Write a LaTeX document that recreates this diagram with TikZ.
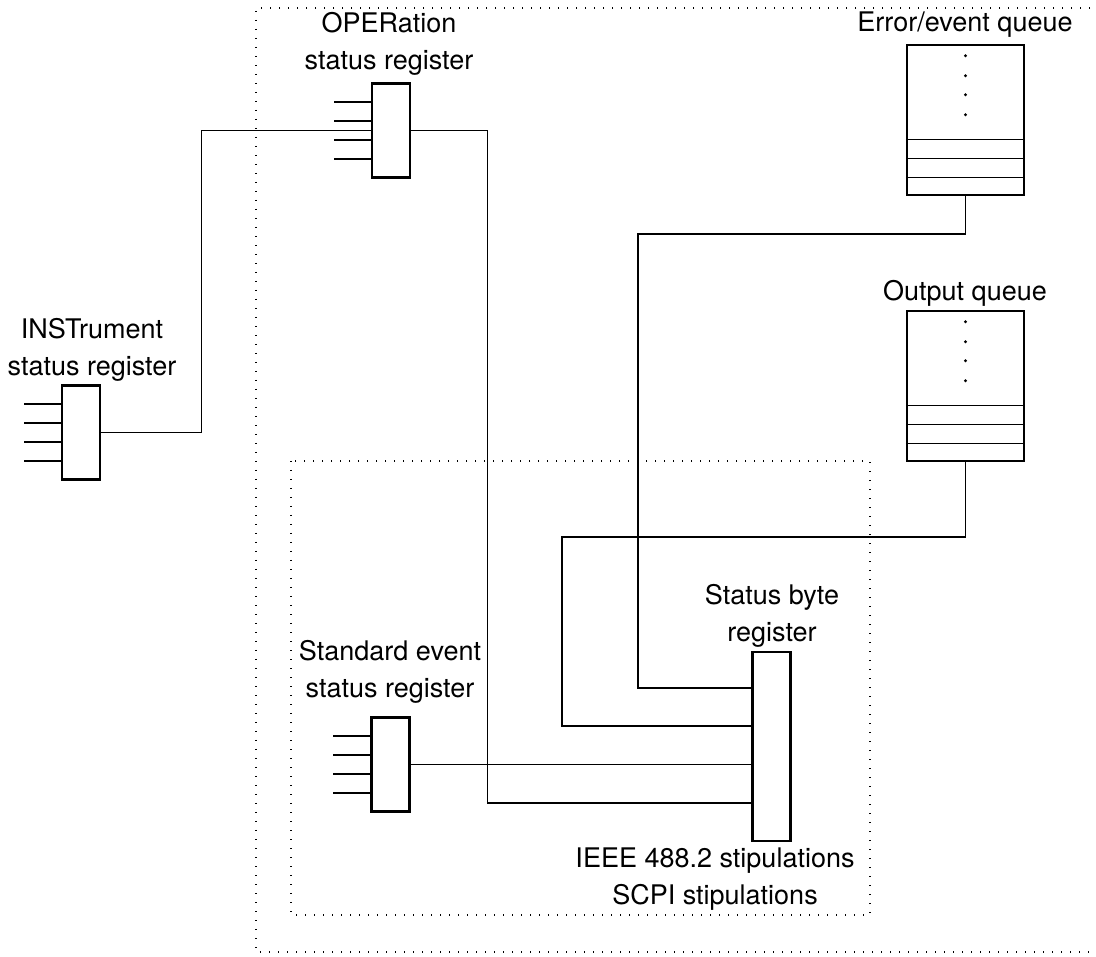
\documentclass[tikz,border=0pt]{standalone}
\usepackage{fontspec}
\setmainfont{TeX Gyre Heros}
\usetikzlibrary{positioning, calc}

\begin{document}
\begin{tikzpicture}[x=1pt, y=-1pt,
    reg/.style={draw, line width=2.4pt, minimum width=38pt, minimum height=94pt, inner sep=0pt},
    queuebox/.style={draw, line width=2.4pt, minimum width=117pt, minimum height=150pt, inner sep=0pt},
    wire/.style={line width=1.3pt},
    stub/.style={line width=2.4pt},
    dotframe/.style={line width=1.3pt, dash pattern=on 1.3pt off 7.7pt},
    lbl/.style={font=\fontsize{27}{37}\selectfont, align=center, inner sep=0pt}]
  \useasboundingbox (0,0) rectangle (1096,957);

  % dotted frames
  \draw[dotframe] (1090,8) -- (256,8) -- (256,952) -- (1090,952);
  \draw[dotframe] (291,461) rectangle (870,915);

  % registers
  \node[reg] (inst) at (81,432.5) {};
  \node[reg] (oper) at (391,130.5) {};
  \node[reg] (std) at (390.5,764.5) {};
  \node[reg, minimum height=189pt] (sb) at (771.5,746.5) {};
  \foreach \r in {inst, oper, std}
    \foreach \dy in {-28.5,-9.5,9.5,28.5}
      \draw[stub] ([shift={(0,\dy)}]\r.west) -- ++(-37,0);

  % queues
  \node[queuebox] (evq) at (965.5,120) {};
  \node[queuebox] (outq) at (965.5,386) {};
  \foreach \q in {evq, outq} {
    \foreach \h in {19,38,57}
      \draw[wire] ([shift={(0,-\h)}]\q.south west) -- ([shift={(0,-\h)}]\q.south east);
    \foreach \h in {12,32,51,71}
      \fill ([shift={(0,\h)}]\q.north) circle (1.6pt);
  }

  % labels
  \node[lbl] (instlbl) at (92,350) {INSTrument\\status register};
  \node[lbl] (operlbl) at (389,44) {OPERation\\status register};
  \node[lbl] (evqlbl) at (965,25) {Error/event queue};
  \node[lbl] (outqlbl) at (965,293) {Output queue};
  \node[lbl] (stdlbl) at (390,671.5) {Standard event\\status register};
  \node[lbl] (sblbl) at (772,615.5) {Status byte\\register};
  \node[lbl] (stiplbl) at (715,879) {IEEE 488.2 stipulations\\SCPI stipulations};

  % connections
  \draw[wire] (inst.east) -- ++(100,0) |- (oper.west);
  \draw[wire] (oper.east) -- ++(76,0) |- ([yshift=-56.5pt]sb.west);
  \draw[wire] (std.east) -- (std.east -| sb.west);
  \draw[wire] (evq.south) |- (638,234) |- ([yshift=58.5pt]sb.west);
  \draw[wire] (outq.south) |- (562,537) |- ([yshift=20.5pt]sb.west);
\end{tikzpicture}
\end{document}
